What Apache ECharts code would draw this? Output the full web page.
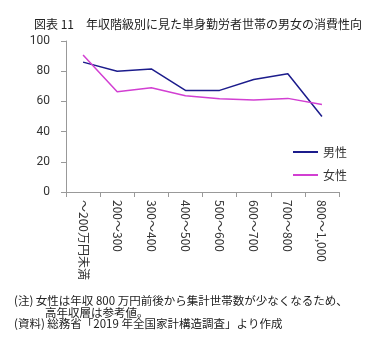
<!DOCTYPE html>
<html>
<head>
<meta charset="utf-8">
<script src="https://cdn.jsdelivr.net/npm/echarts@6/dist/echarts.min.js"></script>
<style>
  html, body { margin: 0; padding: 0; background: #fff; }
  #chart { width: 377px; height: 351px; }
</style>
</head>
<body>
<div id="chart"></div>
<script>
// 年収階級
const categories = ['～200万円未満', '200～300', '300～400', '400～500', '500～600', '600～700', '700～800', '800～1,000'];
const maleValues = [86, 80, 81.5, 67.3, 67.3, 74.5, 78.3, 50];
const femaleValues = [90.8, 66.4, 69.1, 63.8, 61.7, 60.9, 62, 57.9];
const yTicks = { min: 0, max: 100, interval: 20 };

const jp = '"Noto Sans CJK JP", sans-serif';

const chart = echarts.init(document.getElementById('chart'));

const options = {
    animation: false,
    title: {
        text: '図表 11　年収階級別に見た単身勤労者世帯の男女の消費性向',
        left: 29,
        top: 13,
        textStyle: { fontSize: 12, fontWeight: 'normal', color: '#222', fontFamily: jp }
    },
    legend: {
        orient: 'vertical',
        left: 287,
        top: 141,
        itemWidth: 25,
        itemHeight: 2,
        itemGap: 11,
        textStyle: { fontSize: 12, color: '#333', fontFamily: jp },
        data: ['男性', '女性']
    },
    grid: {
        left: 66,
        top: 41,
        width: 273,
        height: 151
    },
    xAxis: {
        type: 'category',
        data: categories,
        boundaryGap: true,
        axisLine: { lineStyle: { color: '#999' } },
        axisTick: { show: true, alignWithLabel: false, length: 5, lineStyle: { color: '#999' } },
        axisLabel: {
            rotate: -90,
            interval: 0,
            margin: 8,
            fontSize: 12,
            color: '#333',
            fontFamily: jp
        }
    },
    yAxis: {
        type: 'value',
        min: yTicks.min,
        max: yTicks.max,
        interval: yTicks.interval,
        splitLine: { show: false },
        axisLine: { show: true, lineStyle: { color: '#999' } },
        axisTick: { show: true, length: 5, lineStyle: { color: '#999' } },
        axisLabel: { fontSize: 12, color: '#333', margin: 16, fontFamily: 'Roboto, sans-serif' }
    },
    series: [
        {
            name: '男性',
            type: 'line',
            symbol: 'none',
            data: maleValues,
            lineStyle: { width: 1.5, color: '#1c1c8c' },
            itemStyle: { color: '#1c1c8c' }
        },
        {
            name: '女性',
            type: 'line',
            symbol: 'none',
            data: femaleValues,
            lineStyle: { width: 1.5, color: '#d23fd2' },
            itemStyle: { color: '#d23fd2' }
        }
    ],
    graphic: [
        {
            type: 'text', left: 14, top: 295,
            style: { text: '(注) 女性は年収 800 万円前後から集計世帯数が少なくなるため、', fill: '#222', font: '11.5px ' + jp }
        },
        {
            type: 'text', left: 45, top: 307,
            style: { text: '高年収層は参考値。', fill: '#222', font: '11.5px ' + jp }
        },
        {
            type: 'text', left: 14, top: 318,
            style: { text: '(資料) 総務省「2019 年全国家計構造調査」より作成', fill: '#222', font: '11.5px ' + jp }
        }
    ]
};

chart.setOption(options);
</script>
</body>
</html>
